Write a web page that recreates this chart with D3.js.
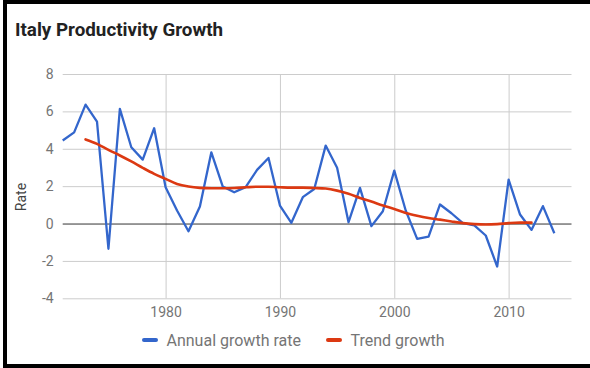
<!DOCTYPE html>
<html>
<head>
<meta charset="utf-8">
<script src="https://cdn.jsdelivr.net/npm/d3@7"></script>
<style>
  html, body { margin: 0; padding: 0; background: #fff; }
  svg { display: block; font-family: Roboto, "Noto Sans", sans-serif; }
</style>
</head>
<body>
<svg id="chart" width="590" height="368"></svg>
<script>
// Annual labour productivity growth for Italy, 1971-2014, with a smoothed trend.
const years = d3.range(1971, 2015);
const annualGrowth = [
  4.44, 4.88, 6.36, 5.45, -1.35, 6.13, 4.08, 3.42, 5.10, 1.94,
  0.70, -0.41, 0.91, 3.81, 1.98, 1.67, 1.95, 2.87, 3.51, 0.96,
  0.04, 1.41, 1.85, 4.17, 2.98, 0.07, 1.91, -0.14, 0.66, 2.83,
  0.70, -0.82, -0.70, 1.02, 0.55, 0.02, -0.10, -0.64, -2.30, 2.35,
  0.48, -0.34, 0.93, -0.52
];
const trendYears = d3.range(1973, 2013);
const trendGrowth = [
  4.50, 4.26, 3.94, 3.64, 3.32, 2.98, 2.66, 2.39, 2.12, 1.98,
  1.91, 1.89, 1.89, 1.90, 1.94, 1.97, 1.97, 1.94, 1.92, 1.92,
  1.90, 1.87, 1.76, 1.59, 1.37, 1.18, 0.96, 0.78, 0.57, 0.42,
  0.30, 0.21, 0.11, 0.02, -0.03, -0.05, -0.03, 0.02, 0.05, 0.05
];
const yTicks = [-4, -2, 0, 2, 4, 6, 8];
const xTicks = [1980, 1990, 2000, 2010];
const seriesNames = ["Annual growth rate", "Trend growth"];
const seriesColors = ["#3366cc", "#dc3912"];

const svg = d3.select("#chart");
const plot = { left: 62.7, right: 571.5, top: 74, bottom: 298.3 };

const x = d3.scaleLinear().domain([1971, 2015.5]).range([plot.left, plot.right]);
const y = d3.scaleLinear().domain([-4, 8]).range([plot.bottom, plot.top]);

// Frame: top, left and bottom edges
svg.append("path")
  .attr("d", "M590,2 H5 V366 H590")
  .attr("fill", "none")
  .attr("stroke", "#000")
  .attr("stroke-width", 4);

// Title
svg.append("text")
  .attr("x", 15).attr("y", 35.5)
  .attr("font-size", 18.8).attr("font-weight", "bold")
  .attr("fill", "#222")
  .text("Italy Productivity Growth");

// Horizontal grid and y labels (plain hyphen for negatives)
const yAxis = d3.axisLeft(y).tickValues(yTicks).tickFormat(d => String(d))
  .tickSize(-(plot.right - plot.left)).tickPadding(9);
const gy = svg.append("g").attr("transform", `translate(${plot.left},0)`).call(yAxis);
gy.select(".domain").remove();
gy.selectAll(".tick line").attr("stroke", d => d === 0 ? "#333" : "#ccc").attr("stroke-width", 1);
gy.selectAll(".tick text").attr("font-size", 14).attr("fill", "#757575")
  .attr("font-family", "Roboto, sans-serif");

// Vertical grid and x labels
const xAxis = d3.axisBottom(x).tickValues(xTicks).tickFormat(d3.format("d"))
  .tickSize(-(plot.bottom - plot.top)).tickPadding(9);
const gx = svg.append("g").attr("transform", `translate(0,${plot.bottom})`).call(xAxis);
gx.select(".domain").remove();
gx.selectAll(".tick line").attr("stroke", "#ccc").attr("stroke-width", 1);
gx.selectAll(".tick text").attr("font-size", 14).attr("fill", "#757575")
  .attr("font-family", "Roboto, sans-serif");

// Keep zero line above vertical grid
gy.raise();
gy.selectAll(".tick line").filter(d => d !== 0).lower();

// Axis title
svg.append("text")
  .attr("transform", `translate(26,197) rotate(-90)`)
  .attr("text-anchor", "middle")
  .attr("font-size", 14).attr("fill", "#444")
  .text("Rate");

// Series
const annualLine = d3.line().x((d, i) => x(years[i])).y(d => y(d));
svg.append("path")
  .datum(annualGrowth)
  .attr("d", annualLine)
  .attr("fill", "none")
  .attr("stroke", seriesColors[0])
  .attr("stroke-width", 2.3)
  .attr("stroke-linejoin", "round");

const trendLine = d3.line().x((d, i) => x(trendYears[i])).y(d => y(d)).curve(d3.curveMonotoneX);
svg.append("path")
  .datum(trendGrowth)
  .attr("d", trendLine)
  .attr("fill", "none")
  .attr("stroke", seriesColors[1])
  .attr("stroke-width", 2.6)
  .attr("stroke-linecap", "round");

// Legend
const legendItems = [
  { name: seriesNames[0], color: seriesColors[0], x: 143 },
  { name: seriesNames[1], color: seriesColors[1], x: 327 }
];
const lg = svg.append("g");
legendItems.forEach(item => {
  lg.append("line")
    .attr("x1", item.x + 1).attr("x2", item.x + 13)
    .attr("y1", 340).attr("y2", 340)
    .attr("stroke", item.color).attr("stroke-width", 4).attr("stroke-linecap", "round");
  lg.append("text")
    .attr("x", item.x + 23.5).attr("y", 345.5)
    .attr("font-size", 16).attr("fill", "#757575")
    .text(item.name);
});
</script>
</body>
</html>
